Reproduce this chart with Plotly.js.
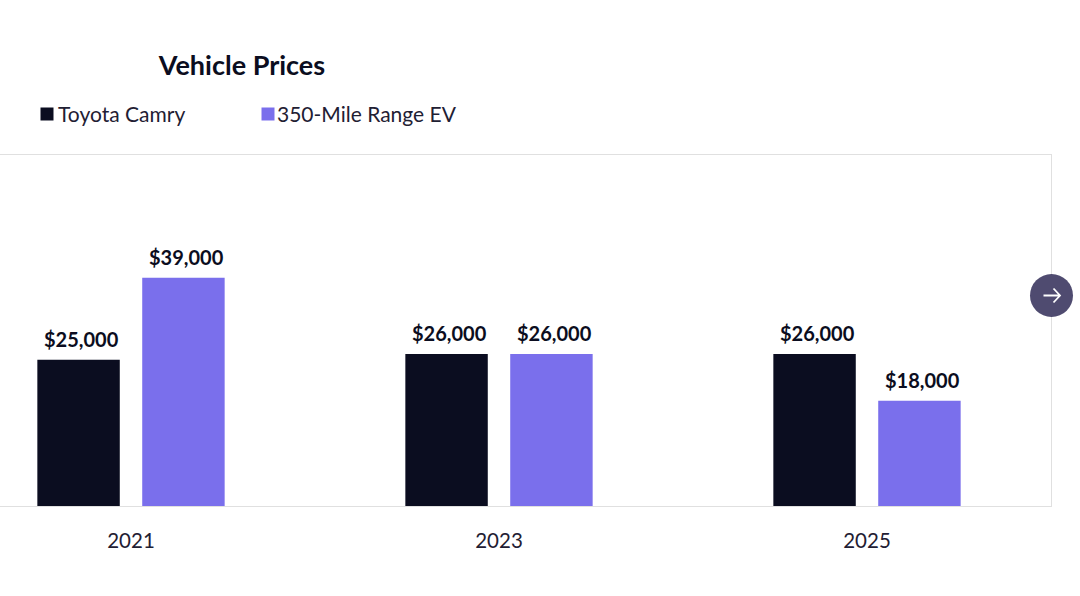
<!DOCTYPE html>
<html>
<head>
<meta charset="utf-8">
<script src="https://cdn.plot.ly/plotly-3.0.1.min.js"></script>
<style>
html,body{margin:0;padding:0;background:#fff;width:1080px;height:596px;overflow:hidden}
#chart{position:absolute;left:-53.5px;top:0;width:1134px;height:596px}
</style>
</head>
<body>
<div id="chart"></div>
<script>
const years = ["2021", "2023", "2025"];
const camryName = "Toyota Camry";
const evName = "350-Mile Range EV";
const camryPrices = [25000, 26000, 26000];
const evPrices = [39000, 26000, 18000];
const chartTitle = "Vehicle Prices";

const ink = "#0b0d20", violet = "#7a6fec", frame = "#e0e0e0", button = "#4f4b70";
const font = "Lato, 'Noto Sans', sans-serif";
const W = 1134, H = 596, L = 0, R = 30, T = 155, B = 90, OFF = 53.5;
const px = p => (p + OFF - L) / (W - L - R);
const py = p => (H - B - p) / (H - T - B);

function bars(name, values, color) {
  return {type: "bar", name, x: years, y: values, marker: {color}, hoverinfo: "x+y+name"};
}
function valueLabels(values, shift) {
  return values.map((v, i) => ({
    x: i, y: v, xref: "x", yref: "y", xshift: shift, yshift: 21,
    xanchor: "center", yanchor: "middle", showarrow: false,
    text: "$" + v.toLocaleString("en-US"),
    font: {family: font, size: 20, color: ink, weight: 700}
  }));
}
function swatch(cx, cy, color) {
  return {type: "rect", xref: "paper", yref: "paper",
    xsizemode: "pixel", ysizemode: "pixel", xanchor: px(cx), yanchor: py(cy),
    x0: -6.5, x1: 6.5, y0: -6.5, y1: 6.5,
    fillcolor: color, line: {width: 0}};
}
function legendText(name, left) {
  return {xref: "paper", yref: "paper", x: px(left), y: py(113),
    xanchor: "left", yanchor: "middle", showarrow: false, text: name,
    font: {family: font, size: 21, color: "#1f2033"}};
}
const btnX = 1051, btnY = 295.5;
const layout = {
  width: W, height: H, margin: {l: L, r: R, t: T, b: B, pad: 0},
  paper_bgcolor: "#fff", plot_bgcolor: "#fff", showlegend: false,
  barmode: "group", bargap: 0.43, bargroupgap: 0.214,
  title: {text: chartTitle, xref: "container", yref: "container",
    x: (241.5 + OFF) / W, xanchor: "center", y: 1 - 66 / H, yanchor: "middle",
    font: {family: font, size: 27, color: ink, weight: 700}},
  xaxis: {type: "category", range: [-0.5, 2.5], showline: true, mirror: true, linecolor: frame, linewidth: 1,
    ticks: "", showgrid: false, zeroline: false, ticklabelstandoff: 16,
    tickfont: {family: font, size: 20.5, color: "#1f2033"}},
  yaxis: {range: [0, 60000], showline: true, mirror: true, linecolor: frame, linewidth: 1,
    showticklabels: false, ticks: "", showgrid: false, zeroline: false},
  annotations: [
    legendText(camryName, 55.5), legendText(evName, 274),
    ...valueLabels(camryPrices, -50), ...valueLabels(evPrices, 55)
  ],
  shapes: [
    swatch(46.5, 114, ink),
    swatch(267.5, 114, violet),
    {type: "circle", xref: "paper", yref: "paper", xsizemode: "pixel", ysizemode: "pixel",
      xanchor: px(btnX), yanchor: py(btnY), x0: -21.5, x1: 21.5, y0: -21.5, y1: 21.5,
      fillcolor: button, line: {width: 0}},
    {type: "path", xref: "paper", yref: "paper", xsizemode: "pixel", ysizemode: "pixel",
      xanchor: px(btnX), yanchor: py(btnY),
      path: "M-8,0 L8,0 M2,-7 L8.5,0 L2,7",
      line: {color: "#fff", width: 1.8}}
  ]
};
Plotly.newPlot("chart", [bars(camryName, camryPrices, ink), bars(evName, evPrices, violet)], layout,
  {displayModeBar: false, responsive: false});
</script>
</body>
</html>
